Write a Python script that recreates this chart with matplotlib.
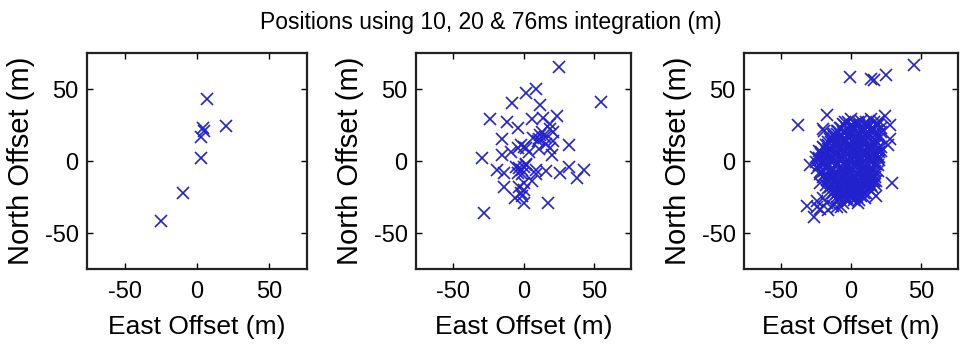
import matplotlib
matplotlib.use("Agg")
import matplotlib.pyplot as plt

plt.rcParams["font.family"] = ["Liberation Sans", "DejaVu Sans"]

# 10 ms integration
east_10ms = [7, 20, 4, 5, 3, 3, -10, -25]
north_10ms = [43, 24, 23, 21, 17, 2, -22, -42]

# 20 ms integration
pts_20ms = [(25, 65), (55, 41), (9, 50), (2, 47), (-8, 40), (12, 39), (-24, 29),
            (-12, 27), (-4, 23), (6, 29), (14, 30), (24, 31), (19, 26), (19, 22),
            (21, 20), (-15, 15), (7, 16), (11, 15), (15, 17), (21, 14), (12, 18),
            (16, 12), (10, 14), (13, 20), (32, 11), (-2, 11), (2, 9), (11, 8),
            (19, 9), (0, 10), (-4, 9), (4, 6), (-29, 2), (-15, 4), (-9, 6), (20, 4),
            (-19, -6), (-14, -8), (-5, -4), (-1, -6), (2, -2), (9, -6), (9, -9),
            (16, -7), (26, -8), (32, -4), (43, -6), (38, -12), (-3, -5), (0, -4),
            (-4, -8), (-1, -9), (2, -3), (-14, -18), (-3, -18), (0, -15), (6, -14),
            (-6, -26), (0, -29), (-2, -22), (0, -20), (-1, -24), (17, -29), (-28, -36)]
east_20ms = [p[0] for p in pts_20ms]
north_20ms = [p[1] for p in pts_20ms]

# 76 ms integration (outliers, then the dense cloud row by row)
pts_76ms = [
    (45, 67), (-1, 58), (14, 57), (16, 56), (25, 60), (-38, 25), (-17, 32),
    (-20, 22), (-19, 21), (24, 31), (28, 25), (28, 15), (26, 11), (29, -15),
    (18, -24), (-31, -31), (-26, -39), (-24, -32), (-29, -3), (-22, -15), (-7, -32),
    (-4, 27), (0, 29), (3, 26), (7, 28), (11, 27), (14, 29), (18, 26), (20, 28),
    (-8, 23), (-5, 25), (-1, 24), (2, 22), (6, 25), (9, 23), (13, 24), (16, 22), (19, 25), (21, 23),
    (-12, 19), (-9, 21), (-6, 20), (-3, 18), (0, 21), (4, 19), (8, 20), (11, 18), (15, 21), (18, 19), (21, 20),
    (-15, 15), (-12, 17), (-8, 16), (-5, 14), (-2, 17), (2, 15), (5, 16), (9, 14), (12, 17), (16, 15), (20, 16),
    (-18, 11), (-14, 13), (-11, 12), (-7, 10), (-4, 13), (0, 11), (3, 12), (7, 10), (10, 13), (14, 11), (17, 12), (21, 10),
    (-23, 7), (-19, 9), (-16, 8), (-12, 6), (-9, 9), (-5, 7), (-2, 8), (2, 6), (5, 9), (9, 7), (12, 8), (16, 6), (19, 9), (21, 7),
    (-25, 3), (-21, 5), (-18, 4), (-14, 2), (-11, 5), (-7, 3), (-3, 4), (0, 2), (4, 5), (7, 3), (11, 4), (14, 2), (18, 5), (20, 3),
    (-25, -1), (-22, 1), (-18, -1), (-15, 0), (-11, -2), (-8, 1), (-4, -1), (-1, 0), (3, -2), (6, 1), (10, -1), (13, 0), (17, -2), (20, 1),
    (-24, -5), (-20, -3), (-17, -4), (-13, -6), (-10, -3), (-6, -5), (-3, -4), (1, -6), (4, -3), (8, -5), (11, -4), (15, -6), (19, -3),
    (-22, -9), (-19, -7), (-15, -8), (-12, -10), (-8, -7), (-5, -9), (-1, -8), (2, -10), (6, -7), (9, -9), (13, -8), (16, -10), (19, -7),
    (-20, -11), (-17, -13), (-13, -12), (-10, -14), (-6, -11), (-3, -13), (1, -12), (4, -14), (8, -11), (11, -13), (15, -12), (18, -14),
    (-18, -17), (-14, -15), (-11, -16), (-7, -18), (-4, -15), (0, -17), (3, -16), (7, -18), (10, -15), (14, -17), (17, -16),
    (-16, -19), (-12, -21), (-9, -20), (-5, -22), (-2, -19), (2, -21), (5, -20), (9, -22), (12, -19), (14, -21),
    (-14, -23), (-10, -25), (-7, -24), (-3, -26), (0, -23), (4, -25), (7, -24), (10, -26),
    (-10, -27), (-6, -29), (-2, -28), (2, -27), (5, -29),
    (-20, -26), (-17, -29), (-13, -31), (-24, -28), (-22, -33), (-16, -34), (-10, -32),
    (-6, 26), (-2, 27), (1, 25), (5, 27), (9, 26), (12, 25), (16, 27), (19, 26),
    (-10, 21), (-7, 23), (-3, 22), (1, 23), (4, 21), (8, 22), (11, 24), (15, 23), (18, 21),
    (-13, 18), (-10, 19), (-7, 18), (-4, 20), (-1, 19), (3, 17), (6, 18), (10, 19), (13, 19), (17, 18), (20, 18),
    (-16, 13), (-13, 15), (-10, 14), (-6, 15), (-3, 14), (1, 13), (4, 14), (8, 15), (11, 12), (15, 13), (18, 14),
    (-20, 10), (-16, 11), (-13, 10), (-9, 11), (-6, 9), (-3, 10), (1, 9), (5, 11), (8, 9), (12, 10), (15, 9), (18, 11),
    (-21, 6), (-17, 6), (-14, 7), (-10, 6), (-7, 7), (-4, 6), (0, 7), (3, 8), (7, 6), (10, 5), (14, 7), (17, 6), (20, 6),
    (-23, 2), (-20, 1), (-16, 3), (-12, 2), (-9, 3), (-5, 2), (-2, 1), (2, 3), (5, 2), (9, 1), (12, 3), (16, 2), (19, 2),
    (-23, -3), (-20, -2), (-16, -3), (-13, -1), (-9, -2), (-6, -2), (-2, -3), (1, -2), (5, -1), (8, -2), (12, -3), (15, -1), (18, -2),
    (-21, -7), (-18, -5), (-14, -6), (-11, -7), (-8, -5), (-4, -7), (0, -5), (3, -7), (7, -6), (10, -7), (14, -5), (17, -7),
    (-19, -10), (-16, -11), (-12, -9), (-9, -10), (-5, -12), (-2, -10), (3, -11), (6, -10), (10, -11), (13, -10), (17, -11),
    (-16, -14), (-12, -14), (-8, -15), (-5, -14), (-1, -15), (2, -14), (6, -14), (9, -13), (13, -14), (16, -14),
    (-15, -18), (-12, -18), (-9, -17), (-5, -18), (-2, -17), (2, -18), (5, -17), (9, -18), (12, -17), (15, -18),
    (-13, -22), (-10, -22), (-7, -21), (-3, -22), (0, -21), (4, -22), (7, -21), (11, -22),
    (-8, -26), (-5, -26), (-1, -25), (2, -25), (6, -27),
]
east_76ms = [p[0] for p in pts_76ms]
north_76ms = [p[1] for p in pts_76ms]

ticks = [-50, 0, 50]
tick_labels = ["-50", "0", "50"]

fig = plt.figure(figsize=(9.61, 3.52), dpi=100)

# axes boxes in figure fractions (left, bottom, width, height)
boxes = [(87 / 961, 83 / 352, 220 / 961, 216 / 352),
         (416 / 961, 83 / 352, 215 / 961, 216 / 352),
         (744 / 961, 83 / 352, 214 / 961, 216 / 352)]
series = [(east_10ms, north_10ms), (east_20ms, north_20ms), (east_76ms, north_76ms)]

for box, (xs, ys) in zip(boxes, series):
    ax = fig.add_axes(box)
    ax.plot(xs, ys, linestyle="none", marker="x", color="#2222cc",
            markersize=8.5, markeredgewidth=1.2)
    ax.set_xlim(-76, 76)
    ax.set_ylim(-75, 75)
    ax.set_xticks(ticks)
    ax.set_xticklabels(tick_labels)
    ax.set_yticks(ticks)
    ax.set_yticklabels(tick_labels)
    ax.tick_params(direction="in", top=True, right=True, length=4, width=1,
                   labelsize=17, colors="black")
    ax.tick_params(axis="x", pad=9)
    ax.tick_params(axis="y", pad=6)
    for s in ax.spines.values():
        s.set_linewidth(1.6)
        s.set_color("#222222")
    ax.set_xlabel("East Offset (m)", fontsize=19, labelpad=8)
    ax.set_ylabel("North Offset (m)", fontsize=21, labelpad=7)

fig.text(0.511, 0.935, "Positions using 10, 20 & 76ms integration (m)",
         ha="center", va="center", fontsize=16.5)

fig.savefig("out.png", dpi=100)
